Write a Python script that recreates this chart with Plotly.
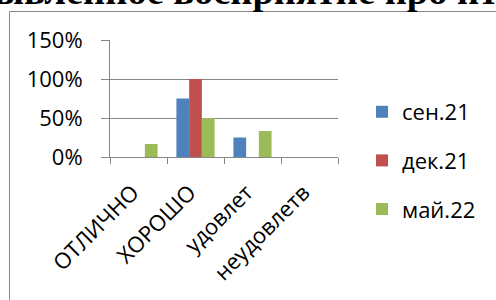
import plotly.graph_objects as go

categories = ["ОТЛИЧНО", "ХОРОШО", "удовлет", "неудовлетв"]
series_names = ["сен.21", "дек.21", "май.22"]
sep21 = [0.0, 0.75, 0.25, 0.0]
dec21 = [0.0, 1.00, 0.0, 0.0]
may22 = [0.167, 0.50, 0.333, 0.0]
colors = ["#4F81BD", "#C0504D", "#9BBB59"]
title_text = "ывленное восприятие про ит"

FONT = "Open Sans"
GRAY = "#868686"

W, H = 496, 300
L, R, T, B = 110, 338, 40, 157  # plot area pixels

fig = go.Figure()
for name, vals, col in zip(series_names, [sep21, dec21, may22], colors):
    fig.add_trace(go.Bar(x=categories, y=vals, name=name, marker_color=col,
                         marker_line_width=0, legendgroup=name))

def px_x(p):
    return (p - L) / (R - L)

def px_y(p):
    return (B - p) / (B - T)

fig.update_layout(
    width=W, height=H,
    margin=dict(l=L, r=W - R, t=T, b=H - B, pad=0, autoexpand=False),
    paper_bgcolor="white", plot_bgcolor="white",
    barmode="group", bargap=0.33, bargroupgap=0,
    font=dict(family=FONT, size=22, color="#000000"),
    legend=dict(x=px_x(362), y=px_y(91), xanchor="left", yanchor="top",
                traceorder="grouped", tracegroupgap=17, maxheight=290,
                font=dict(family=FONT, size=22), bgcolor="rgba(0,0,0,0)"),
    showlegend=True,
)
fig.update_xaxes(type="category", showgrid=False, showline=True, linecolor=GRAY,
                 linewidth=1, ticks="outside", tickson="boundaries", ticklen=6,
                 tickcolor=GRAY, tickangle=-45, automargin=False,
                 ticklabelstandoff=13, ticklabelshift=-6,
                 tickfont=dict(family=FONT, size=22))
fig.update_yaxes(range=[0, 1.5], dtick=0.5, tickformat=".0%", showgrid=True,
                 gridcolor=GRAY, gridwidth=1, showline=True, linecolor=GRAY,
                 ticks="outside", ticklen=8, tickcolor=GRAY, zeroline=False,
                 automargin=False, ticklabelstandoff=14,
                 tickfont=dict(family=FONT, size=22))

# chart border (extends past the window on the right and bottom)
fig.add_shape(type="rect", xref="paper", yref="paper",
              x0=px_x(9.5), x1=px_x(520), y0=px_y(11.5), y1=px_y(320),
              line=dict(color=GRAY, width=1), fillcolor="rgba(0,0,0,0)", layer="below")

# cropped document heading above the chart
fig.add_annotation(text="<b>" + title_text + "</b>", xref="paper", yref="paper",
                   x=px_x(-8), y=px_y(14), xanchor="left", yanchor="bottom",
                   showarrow=False, font=dict(family="Liberation Serif", size=38.5, color="#000"))
# the chart box (white) hides the heading's descenders
fig.add_annotation(text=" ", xref="paper", yref="paper",
                   x=px_x(10), y=px_y(12), xanchor="left", yanchor="top",
                   width=486, height=16, bgcolor="white", borderpad=0, borderwidth=0,
                   showarrow=False)

fig.write_html("out.html", post_script="document.body.style.margin='0px';",
               config={"displayModeBar": False})
